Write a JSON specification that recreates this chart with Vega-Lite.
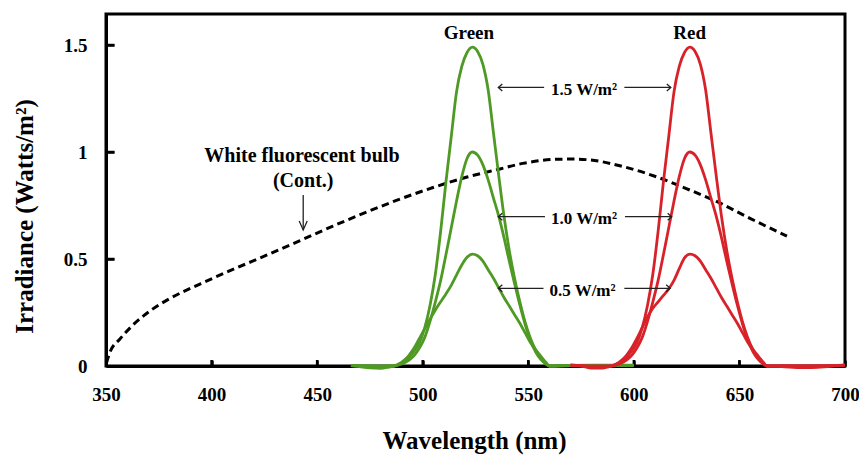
{
  "$schema": "https://vega.github.io/schema/vega-lite/v6.json",
  "width": 739,
  "height": 352,
  "autosize": {"type": "none"},
  "padding": {"left": 106, "top": 14, "right": 14, "bottom": 89},
  "config": {"view": {"stroke": "black", "strokeWidth": 3}, "font": "Liberation Serif"},
  "datasets": {
    "leds": [
      {"c": "Green", "x": 466, "p15": 0.002, "p10": 0.002, "p05": 0.002},
      {"c": "Green", "x": 470, "p15": -0.003, "p10": 0.002, "p05": 0.001},
      {"c": "Green", "x": 475, "p15": -0.009, "p10": 0.0, "p05": 0.001},
      {"c": "Green", "x": 480, "p15": -0.011, "p10": -0.002, "p05": 0.0},
      {"c": "Green", "x": 484, "p15": -0.005, "p10": 0.0, "p05": 0.0},
      {"c": "Green", "x": 486.5, "p15": 0, "p10": 0, "p05": 0},
      {"c": "Green", "x": 488.5, "p15": 0.008, "p10": 0.005, "p05": 0.008},
      {"c": "Green", "x": 491, "p15": 0.02, "p10": 0.013, "p05": 0.025},
      {"c": "Green", "x": 493.5, "p15": 0.04, "p10": 0.028, "p05": 0.05},
      {"c": "Green", "x": 496, "p15": 0.07, "p10": 0.05, "p05": 0.085},
      {"c": "Green", "x": 498.5, "p15": 0.11, "p10": 0.085, "p05": 0.13},
      {"c": "Green", "x": 501, "p15": 0.18, "p10": 0.135, "p05": 0.175},
      {"c": "Green", "x": 503.5, "p15": 0.285, "p10": 0.21, "p05": 0.22},
      {"c": "Green", "x": 506, "p15": 0.43, "p10": 0.30, "p05": 0.262},
      {"c": "Green", "x": 508.5, "p15": 0.63, "p10": 0.40, "p05": 0.30},
      {"c": "Green", "x": 511, "p15": 0.86, "p10": 0.52, "p05": 0.337},
      {"c": "Green", "x": 513.5, "p15": 1.07, "p10": 0.645, "p05": 0.377},
      {"c": "Green", "x": 516, "p15": 1.28, "p10": 0.77, "p05": 0.425},
      {"c": "Green", "x": 518.5, "p15": 1.40, "p10": 0.885, "p05": 0.472},
      {"c": "Green", "x": 521, "p15": 1.465, "p10": 0.97, "p05": 0.508},
      {"c": "Green", "x": 523.5, "p15": 1.49, "p10": 1.0, "p05": 0.523},
      {"c": "Green", "x": 526, "p15": 1.47, "p10": 0.985, "p05": 0.515},
      {"c": "Green", "x": 528.5, "p15": 1.41, "p10": 0.94, "p05": 0.49},
      {"c": "Green", "x": 531, "p15": 1.29, "p10": 0.87, "p05": 0.45},
      {"c": "Green", "x": 533.5, "p15": 1.09, "p10": 0.785, "p05": 0.41},
      {"c": "Green", "x": 536, "p15": 0.89, "p10": 0.70, "p05": 0.365},
      {"c": "Green", "x": 538.5, "p15": 0.70, "p10": 0.60, "p05": 0.32},
      {"c": "Green", "x": 541, "p15": 0.54, "p10": 0.49, "p05": 0.28},
      {"c": "Green", "x": 543.5, "p15": 0.41, "p10": 0.385, "p05": 0.24},
      {"c": "Green", "x": 546, "p15": 0.30, "p10": 0.285, "p05": 0.20},
      {"c": "Green", "x": 548.5, "p15": 0.205, "p10": 0.195, "p05": 0.155},
      {"c": "Green", "x": 551, "p15": 0.13, "p10": 0.12, "p05": 0.11},
      {"c": "Green", "x": 553.5, "p15": 0.075, "p10": 0.065, "p05": 0.075},
      {"c": "Green", "x": 556, "p15": 0.035, "p10": 0.03, "p05": 0.045},
      {"c": "Green", "x": 558.5, "p15": 0.01, "p10": 0.008, "p05": 0.015},
      {"c": "Green", "x": 560, "p15": 0, "p10": 0, "p05": 0},
      {"c": "Green", "x": 570, "p15": 0.003, "p10": 0.002, "p05": 0.002},
      {"c": "Green", "x": 580, "p15": 0.004, "p10": 0.003, "p05": 0.002},
      {"c": "Green", "x": 590, "p15": 0.004, "p10": 0.003, "p05": 0.003},
      {"c": "Green", "x": 600, "p15": 0.004, "p10": 0.003, "p05": 0.003},
      {"c": "Red", "x": 570, "p15": 0.004, "p10": 0.004, "p05": 0.004},
      {"c": "Red", "x": 575, "p15": 0.0, "p10": 0.001, "p05": 0.002},
      {"c": "Red", "x": 580, "p15": -0.01, "p10": -0.004, "p05": 0.0},
      {"c": "Red", "x": 585, "p15": -0.01, "p10": -0.004, "p05": 0.0},
      {"c": "Red", "x": 588, "p15": -0.004, "p10": -0.001, "p05": 0.0},
      {"c": "Red", "x": 589.5, "p15": 0, "p10": 0, "p05": 0},
      {"c": "Red", "x": 591.5, "p15": 0.008, "p10": 0.005, "p05": 0.008},
      {"c": "Red", "x": 594, "p15": 0.02, "p10": 0.013, "p05": 0.025},
      {"c": "Red", "x": 596.5, "p15": 0.04, "p10": 0.028, "p05": 0.05},
      {"c": "Red", "x": 599, "p15": 0.07, "p10": 0.05, "p05": 0.085},
      {"c": "Red", "x": 601.5, "p15": 0.11, "p10": 0.085, "p05": 0.13},
      {"c": "Red", "x": 604, "p15": 0.18, "p10": 0.135, "p05": 0.18},
      {"c": "Red", "x": 606.5, "p15": 0.285, "p10": 0.21, "p05": 0.23},
      {"c": "Red", "x": 609, "p15": 0.43, "p10": 0.30, "p05": 0.27},
      {"c": "Red", "x": 611.5, "p15": 0.63, "p10": 0.40, "p05": 0.30},
      {"c": "Red", "x": 614, "p15": 0.86, "p10": 0.52, "p05": 0.33},
      {"c": "Red", "x": 616.5, "p15": 1.07, "p10": 0.645, "p05": 0.36},
      {"c": "Red", "x": 619, "p15": 1.28, "p10": 0.77, "p05": 0.40},
      {"c": "Red", "x": 621.5, "p15": 1.40, "p10": 0.885, "p05": 0.455},
      {"c": "Red", "x": 624, "p15": 1.465, "p10": 0.97, "p05": 0.505},
      {"c": "Red", "x": 626.5, "p15": 1.49, "p10": 1.0, "p05": 0.523},
      {"c": "Red", "x": 629, "p15": 1.47, "p10": 0.985, "p05": 0.515},
      {"c": "Red", "x": 631.5, "p15": 1.41, "p10": 0.94, "p05": 0.49},
      {"c": "Red", "x": 634, "p15": 1.29, "p10": 0.87, "p05": 0.45},
      {"c": "Red", "x": 636.5, "p15": 1.09, "p10": 0.785, "p05": 0.41},
      {"c": "Red", "x": 639, "p15": 0.89, "p10": 0.70, "p05": 0.365},
      {"c": "Red", "x": 641.5, "p15": 0.70, "p10": 0.60, "p05": 0.32},
      {"c": "Red", "x": 644, "p15": 0.54, "p10": 0.49, "p05": 0.28},
      {"c": "Red", "x": 646.5, "p15": 0.41, "p10": 0.385, "p05": 0.24},
      {"c": "Red", "x": 649, "p15": 0.30, "p10": 0.285, "p05": 0.20},
      {"c": "Red", "x": 651.5, "p15": 0.205, "p10": 0.195, "p05": 0.155},
      {"c": "Red", "x": 654, "p15": 0.13, "p10": 0.12, "p05": 0.11},
      {"c": "Red", "x": 656.5, "p15": 0.075, "p10": 0.065, "p05": 0.075},
      {"c": "Red", "x": 659, "p15": 0.035, "p10": 0.03, "p05": 0.045},
      {"c": "Red", "x": 661.5, "p15": 0.01, "p10": 0.008, "p05": 0.015},
      {"c": "Red", "x": 663, "p15": 0, "p10": 0, "p05": 0},
      {"c": "Red", "x": 670, "p15": -0.003, "p10": 0.0, "p05": 0.002},
      {"c": "Red", "x": 680, "p15": -0.008, "p10": -0.002, "p05": 0.002},
      {"c": "Red", "x": 690, "p15": -0.004, "p10": 0.0, "p05": 0.002},
      {"c": "Red", "x": 700, "p15": 0.004, "p10": 0.004, "p05": 0.004}
    ],
    "bulb": [
      {"x": 350.2, "y": 0.014}, {"x": 351.9, "y": 0.065}, {"x": 356.6, "y": 0.126},
      {"x": 362.8, "y": 0.192}, {"x": 370.8, "y": 0.257}, {"x": 378.9, "y": 0.308},
      {"x": 394.5, "y": 0.383}, {"x": 410.1, "y": 0.451}, {"x": 426.3, "y": 0.519},
      {"x": 441.9, "y": 0.586}, {"x": 457.5, "y": 0.654}, {"x": 473.6, "y": 0.72},
      {"x": 489.2, "y": 0.78}, {"x": 504.9, "y": 0.834}, {"x": 521, "y": 0.883},
      {"x": 536.6, "y": 0.921}, {"x": 547.5, "y": 0.947}, {"x": 563.6, "y": 0.966},
      {"x": 571.2, "y": 0.967}, {"x": 579.2, "y": 0.963}, {"x": 594.9, "y": 0.932},
      {"x": 611, "y": 0.883}, {"x": 626.6, "y": 0.822}, {"x": 639.4, "y": 0.768},
      {"x": 655, "y": 0.69}, {"x": 672.5, "y": 0.607}
    ],
    "xticks": [{"x": 400, "y": 0, "y2": 0.028}, {"x": 450, "y": 0, "y2": 0.028}, {"x": 500, "y": 0, "y2": 0.028}, {"x": 550, "y": 0, "y2": 0.028}, {"x": 600, "y": 0, "y2": 0.028}, {"x": 650, "y": 0, "y2": 0.028}],
    "yticks": [{"x": 350, "x2": 354, "y": 0.5}, {"x": 350, "x2": 354, "y": 1}, {"x": 350, "x2": 354, "y": 1.5}],
    "shafts": [
      {"x": 535.8, "x2": 557.5, "y": 1.302}, {"x": 595.5, "x2": 617.5, "y": 1.302},
      {"x": 535.8, "x2": 557.9, "y": 0.698}, {"x": 595.8, "x2": 617.9, "y": 0.698},
      {"x": 535.8, "x2": 557.2, "y": 0.363}, {"x": 595.5, "x2": 617.2, "y": 0.363}
    ],
    "vshaft": [{"x": 443.4, "y": 0.799, "y2": 0.636}],
    "heads": [
      {"x": 535.8, "y": 1.302, "d": "left"}, {"x": 617.5, "y": 1.302, "d": "right"},
      {"x": 535.8, "y": 0.698, "d": "left"}, {"x": 617.9, "y": 0.698, "d": "right"},
      {"x": 535.8, "y": 0.363, "d": "left"}, {"x": 617.2, "y": 0.363, "d": "right"},
      {"x": 443.4, "y": 0.636, "d": "down"}
    ],
    "colorLabels": [
      {"x": 521.9, "y": 1.527, "t": "Green"}, {"x": 626.4, "y": 1.527, "t": "Red"}
    ],
    "bulbLabels": [
      {"x": 442.8, "y": 0.955, "t": "White fluorescent bulb"},
      {"x": 443.4, "y": 0.838, "t": "(Cont.)"}
    ],
    "powerLabels": [
      {"x": 576.4, "y": 1.266, "t": "1.5 W/m²"},
      {"x": 576.4, "y": 0.664, "t": "1.0 W/m²"},
      {"x": 575.7, "y": 0.327, "t": "0.5 W/m²"}
    ]
  },
  "encoding": {
    "x": {"field": "x", "type": "quantitative",
      "scale": {"domain": [350, 700], "nice": false, "zero": false},
      "axis": {"title": "Wavelength (nm)", "titleFont": "Liberation Serif", "titleFontSize": 25, "titleFontWeight": "bold", "titleColor": "black",
        "titleX": 368, "titleY": 82, "titleBaseline": "alphabetic", "titleAlign": "center",
        "values": [350, 400, 450, 500, 550, 600, 650, 700],
        "labelFont": "Liberation Serif", "labelFontSize": 19, "labelFontWeight": "bold", "labelColor": "black",
        "labelPadding": 25, "labelFlush": false, "labelOverlap": false,
        "tickSize": -6, "tickWidth": 2.5, "tickColor": "black", "domainColor": "black", "domainWidth": 3, "grid": false}},
    "y": {"field": "y", "type": "quantitative",
      "scale": {"domain": [0, 1.645], "nice": false},
      "axis": {"title": "Irradiance (Watts/m²)", "titleFont": "Liberation Serif", "titleFontSize": 25, "titleFontWeight": "bold", "titleColor": "black",
        "titleX": -74, "titleY": 202, "titleBaseline": "alphabetic", "titleAlign": "center", "titleAngle": 270,
        "values": [0, 0.5, 1, 1.5], "labelExpr": "datum.value + ''",
        "labelFont": "Liberation Serif", "labelFontSize": 19, "labelFontWeight": "bold", "labelColor": "black",
        "labelPadding": 27, "labelFlush": false, "labelOverlap": false,
        "tickSize": -8, "tickWidth": 2.5, "tickColor": "black", "domainColor": "black", "domainWidth": 3, "grid": false}}
  },
  "layer": [
    {
      "data": {"name": "xticks"},
      "mark": {"type": "rule", "color": "black", "strokeWidth": 2.5},
      "encoding": {"y2": {"field": "y2"}}
    },
    {
      "data": {"name": "yticks"},
      "mark": {"type": "rule", "color": "black", "strokeWidth": 2.5},
      "encoding": {"x2": {"field": "x2"}}
    },
    {
      "data": {"name": "bulb"},
      "mark": {"type": "line", "color": "black", "strokeWidth": 3, "strokeDash": [7.5, 4.5], "interpolate": "monotone", "clip": false}
    },
    {
      "data": {"name": "leds"},
      "transform": [{"fold": ["p15", "p10", "p05"], "as": ["level", "y"]}],
      "mark": {"type": "line", "strokeWidth": 2.8, "interpolate": "monotone", "clip": false},
      "encoding": {
        "color": {"field": "c", "type": "nominal", "scale": {"domain": ["Green", "Red"], "range": ["#4e9a24", "#d8222a"]}, "legend": null},
        "detail": {"field": "level"}
      }
    },
    {
      "data": {"name": "shafts"},
      "mark": {"type": "rule", "color": "#222222", "strokeWidth": 1.3},
      "encoding": {"x2": {"field": "x2"}}
    },
    {
      "data": {"name": "vshaft"},
      "mark": {"type": "rule", "color": "#222222", "strokeWidth": 1.3},
      "encoding": {"y2": {"field": "y2"}}
    },
    {
      "data": {"name": "heads"},
      "mark": {"type": "point", "filled": false, "size": 4, "stroke": "#222222", "strokeWidth": 1.3, "opacity": 1},
      "encoding": {
        "shape": {"field": "d", "type": "nominal", "legend": null,
          "scale": {"domain": ["left", "right", "down"], "range": ["M4,-3.5L0,0L4,3.5", "M-4,-3.5L0,0L-4,3.5", "M-4,-9L0,0L4,-9"]}}
      }
    },
    {
      "data": {"name": "colorLabels"},
      "mark": {"type": "text", "font": "Liberation Serif", "fontSize": 19, "fontWeight": "bold", "color": "black", "align": "center", "baseline": "alphabetic"},
      "encoding": {"text": {"field": "t"}}
    },
    {
      "data": {"name": "bulbLabels"},
      "mark": {"type": "text", "font": "Liberation Serif", "fontSize": 20, "fontWeight": "bold", "color": "black", "align": "center", "baseline": "alphabetic"},
      "encoding": {"text": {"field": "t"}}
    },
    {
      "data": {"name": "powerLabels"},
      "mark": {"type": "text", "font": "Liberation Serif", "fontSize": 17, "fontWeight": "bold", "color": "black", "align": "center", "baseline": "alphabetic"},
      "encoding": {"text": {"field": "t"}}
    }
  ]
}
